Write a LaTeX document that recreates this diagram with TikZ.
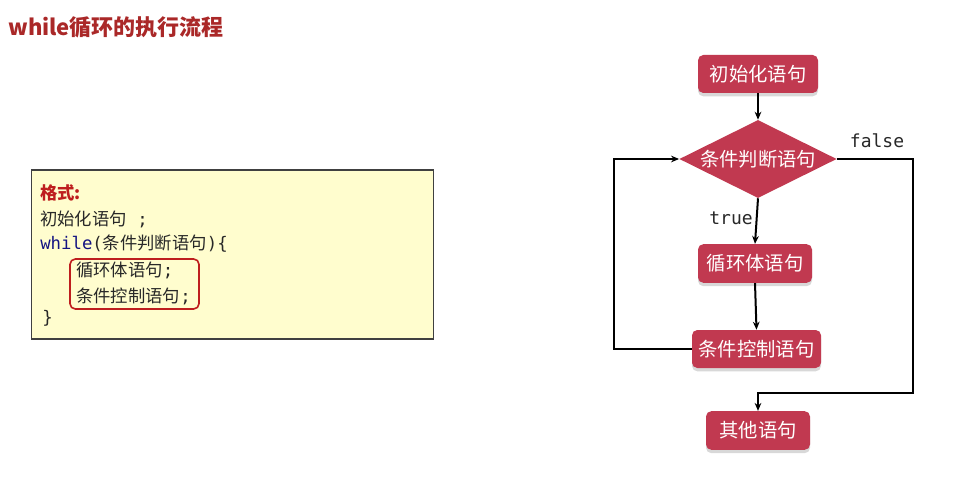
\documentclass[tikz,border=0pt]{standalone}
\usepackage{fontspec}
\setmainfont{Noto Sans CJK SC}
\setmonofont{DejaVu Sans Mono}
\usetikzlibrary{shapes.geometric,arrows.meta,shadows}
\definecolor{boxred}{RGB}{193,57,80}
\definecolor{titlered}{RGB}{170,40,40}
\definecolor{codered}{RGB}{190,30,30}
\definecolor{codeyellow}{RGB}{255,253,206}
\definecolor{codenavy}{RGB}{20,20,130}
\definecolor{codetext}{RGB}{40,40,40}
\tikzset{
  flowbox/.style={draw=none, fill=boxred, rounded corners=4pt, text=white,
    font=\fontsize{14.5}{16}\selectfont, inner sep=0pt,
    drop shadow={shadow xshift=0pt, shadow yshift=-2.5pt, fill=black!25, opacity=0.6}},
  flowdia/.style={diamond, aspect=2, fill=boxred, text=white, inner sep=0pt,
    minimum width=118pt, minimum height=58.5pt, font=\fontsize{14.5}{16}\selectfont},
  flowline/.style={draw=black, line width=1.5pt, -{Stealth[length=6pt,width=5pt]}},
  codeline/.style={anchor=west, inner sep=0pt, text=codetext, font=\fontsize{13}{15}\selectfont},
  monolabel/.style={inner sep=0pt, font=\ttfamily\fontsize{13.5}{15}\selectfont, text=codetext}
}
\begin{document}
\begin{tikzpicture}[x=0.75pt,y=-0.75pt]
\fill[white] (0,0) rectangle (967,478);
\useasboundingbox (0,0) rectangle (967,478);
% title
\node[anchor=west, inner sep=0pt, text=titlered, font=\bfseries\fontsize{16.5}{18}\selectfont] (title) at (8,27) {while循环的执行流程};
% code box
\node[draw=black!75, line width=0.8pt, fill=codeyellow, minimum width=301pt, minimum height=126.75pt, inner sep=0pt] (codebox) at (232.5,254.5) {};
\node[codeline, text=codered, font=\bfseries\fontsize{13}{15}\selectfont] (fmt) at (40,193) {格式:};
\node[codeline] (l1) at (40,219) {初始化语句{\ttfamily\ ;}};
\node[codeline] (l2) at (40,244) {{\ttfamily\color{codenavy}while}{\ttfamily(}条件判断语句{\ttfamily)\{}};
\node[codeline] (l3) at (76,270) {循环体语句{\ttfamily;}};
\node[codeline] (l4) at (76,296) {条件控制语句{\ttfamily;}};
\node[codeline] (l5) at (42,318) {{\ttfamily\}}};
\node[draw=codered, line width=1.2pt, rounded corners=4pt, minimum width=96.75pt, minimum height=37.5pt, inner sep=0pt] (hl) at (134.5,284) {};
% flowchart
\node[flowbox, minimum width=90pt, minimum height=28.5pt] (init) at (758,74) {初始化语句};
\node[flowdia] (cond) at (758,159) {条件判断语句};
\node[flowbox, minimum width=85.5pt, minimum height=29pt] (body) at (755,263.5) {循环体语句};
\node[flowbox, minimum width=96.75pt, minimum height=28.5pt] (ctrl) at (756.5,349) {条件控制语句};
\node[flowbox, minimum width=78pt, minimum height=29pt] (other) at (758,430.5) {其他语句};
\node[monolabel] (flabel) at (877,141) {false};
\node[monolabel] (tlabel) at (731,218) {true};
\coordinate (fr) at (913,159);
\coordinate (fb) at (913,393);
\coordinate (fo) at (758,393);
\coordinate (lb) at (614,349);
\coordinate (lt) at (614,159);
\draw[flowline] (init.south) -- (cond.north);
\draw[flowline] (cond.south) -- (body.north);
\draw[flowline] (body.south) -- (ctrl.north);
\draw[flowline] (cond.east) -- (fr) -- (fb) -- (fo) -- (other.north);
\draw[flowline] (ctrl.west) -- (lb) -- (lt) -- (cond.west);
\end{tikzpicture}
\end{document}
